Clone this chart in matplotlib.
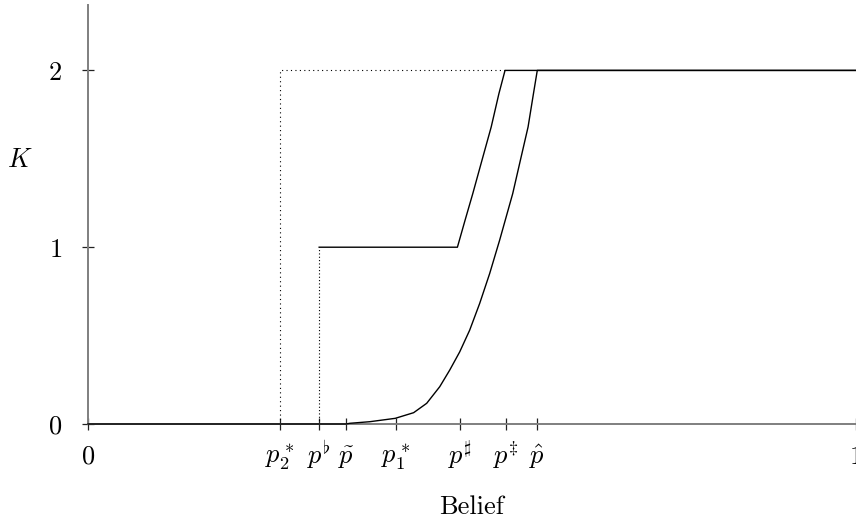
import numpy as np
import matplotlib.pyplot as plt

plt.rcParams['font.family'] = 'serif'
plt.rcParams['font.serif'] = ['cmr10', 'DejaVu Serif']
plt.rcParams['mathtext.fontset'] = 'cm'
plt.rcParams['axes.formatter.use_mathtext'] = True

# threshold beliefs on the x axis
tick_pos = [0.0, 0.250, 0.301, 0.336, 0.401, 0.485, 0.544, 0.585, 1.0]
tick_labels = ['$0$', r'$p_2^*$', r'$p^\flat$', r'$\tilde{p}$', r'$p_1^*$',
               r'$p^\sharp$', r'$p^{‡}$', r'$\hat{p}$', '$1$']

# smooth policy (rises from p~ to p^)
smooth_x = [0.0, 0.336, 0.341, 0.367, 0.400, 0.424, 0.441, 0.458, 0.471,
            0.484, 0.497, 0.510, 0.523, 0.536, 0.553, 0.563, 0.573,
            0.580, 0.585, 1.0]
smooth_k = [0.0, 0.0, 0.004, 0.013, 0.032, 0.064, 0.117, 0.211, 0.305,
            0.408, 0.531, 0.682, 0.851, 1.040, 1.303, 1.492, 1.680,
            1.868, 2.0, 2.0]

# step policy (1 from p_flat, rises from p# to p‡)
step_x = [0.301, 0.481, 0.491, 0.501, 0.513, 0.525, 0.535, 0.543, 1.0]
step_k = [1.0, 1.0, 1.153, 1.303, 1.492, 1.680, 1.868, 2.0, 2.0]

# dotted guides
guide2_x = [0.250, 0.250, 0.543]
guide2_k = [0.0, 2.0, 2.0]
guide1_x = [0.301, 0.301]
guide1_k = [0.0, 1.0]

fig = plt.figure(figsize=(8.56, 5.2), dpi=100)
ax = fig.add_axes([88 / 856, 96 / 520, 768 / 856, 419 / 520])

ax.plot(guide2_x, guide2_k, color='black', lw=0.8, ls=(0, (1, 3)))
ax.plot(guide1_x, guide1_k, color='black', lw=0.8, ls=(0, (1, 2)))
ax.plot(smooth_x, smooth_k, color='black', lw=1.0, clip_on=False, zorder=5)
ax.plot(step_x, step_k, color='black', lw=1.0, clip_on=False, zorder=5)

ax.set_xlim(0, 1)
ax.set_ylim(0, 2.37)

for side in ['top', 'right']:
    ax.spines[side].set_visible(False)
for side in ['left', 'bottom']:
    ax.spines[side].set_color('#7f7f7f')
    ax.spines[side].set_linewidth(1.4)

ax.set_xticks(tick_pos)
ax.set_xticklabels(tick_labels, fontsize=19)
for lab in ax.get_xticklabels():
    lab.set_verticalalignment('baseline')
ax.set_yticks([0, 1, 2])
ax.set_yticklabels(['$0$', '$1$', '$2$'], fontsize=19)
ax.tick_params(axis='both', direction='inout', length=9, width=0.9,
               color='#222222')
ax.tick_params(axis='x', pad=24)
ax.tick_params(axis='y', pad=14)

ax.set_xlabel('Belief', fontsize=19)
ax.xaxis.set_label_coords(0.499, -0.17)
ax.text(-0.0885, 0.63, '$K$', fontsize=19, ha='center', va='center',
        transform=ax.transAxes)

fig.savefig('out.png', dpi=100)
